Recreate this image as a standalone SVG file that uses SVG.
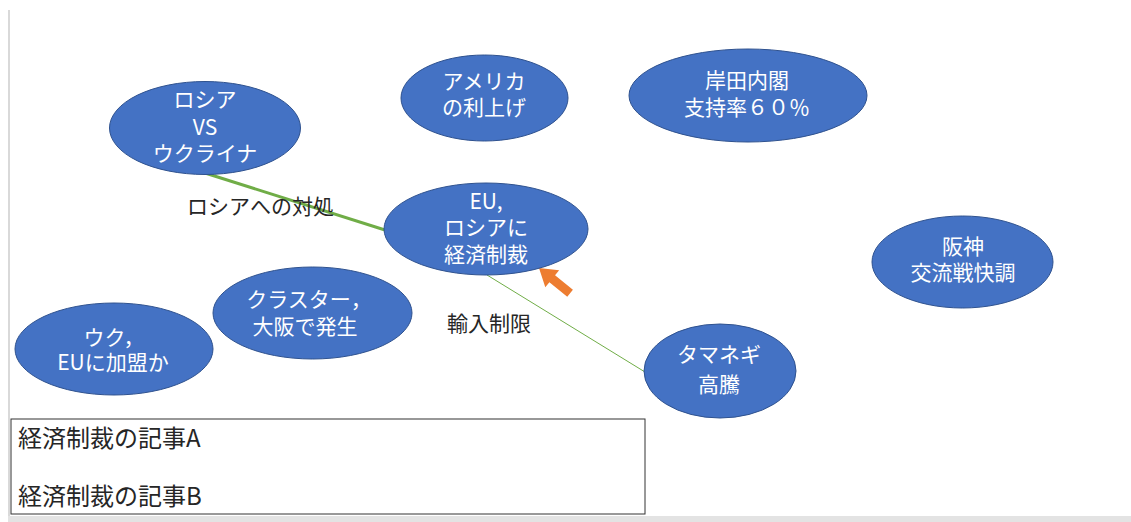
<svg xmlns="http://www.w3.org/2000/svg" width="1131" height="522" viewBox="0 0 1131 522">
<style>
.node ellipse{fill:#4472c4;stroke:#2f528f;stroke-width:1}
.node text{fill:#ffffff;font-family:"Noto Sans CJK JP","Noto Sans",sans-serif;font-size:21px;text-anchor:middle}
.lbl{fill:#262626;font-family:"Noto Sans CJK JP","Noto Sans",sans-serif;font-size:21px}
.box{fill:#262626;font-family:"Noto Sans CJK JP","Noto Sans",sans-serif;font-size:24px}
</style>
<rect x="0" y="0" width="1131" height="522" fill="#ffffff"/>
<rect x="8" y="10" width="2" height="512" fill="#d9d9d9"/>
<rect x="8" y="516" width="1123" height="6" fill="#e3e3e3"/>
<g id="connectors">
<line x1="205" y1="173" x2="385" y2="230" stroke="#70ad47" stroke-width="3"/>
<line x1="487" y1="275" x2="645" y2="372" stroke="#70ad47" stroke-width="1"/>
<text class="lbl" x="187" y="214">ロシアへの対処</text>
<text class="lbl" x="447" y="331">輸入制限</text>
<polygon points="0,0 -17,-11 -17,-4.5 -40,-4.5 -40,4.5 -17,4.5 -17,11" fill="#ed7d31" transform="translate(539,268) rotate(219)"/>
</g>
<g id="n-russia" class="node">
<ellipse cx="205" cy="128" rx="95.5" ry="46.5"/>
<text x="205" y="107">ロシア</text>
<text x="205" y="135">VS</text>
<text x="205" y="161">ウクライナ</text>
</g>
<g id="n-america" class="node">
<ellipse cx="484.5" cy="98" rx="83.5" ry="43"/>
<text x="484" y="89">アメリカ</text>
<text x="484" y="115">の利上げ</text>
</g>
<g id="n-kishida" class="node">
<ellipse cx="748" cy="95.5" rx="119" ry="46.5"/>
<text x="747" y="88">岸田内閣</text>
<text x="747" y="115">支持率６０％</text>
</g>
<g id="n-hanshin" class="node">
<ellipse cx="962.5" cy="262" rx="90.5" ry="46"/>
<text x="963" y="254">阪神</text>
<text x="963" y="280">交流戦快調</text>
</g>
<g id="n-eu" class="node">
<ellipse cx="486" cy="229" rx="102" ry="46"/>
<text x="486" y="209">EU,</text>
<text x="486" y="235">ロシアに</text>
<text x="486" y="262">経済制裁</text>
</g>
<g id="n-cluster" class="node">
<ellipse cx="312.5" cy="313" rx="99.5" ry="46"/>
<text x="309" y="307">クラスター，</text>
<text x="305" y="334">大阪で発生</text>
</g>
<g id="n-uku" class="node">
<ellipse cx="114" cy="349" rx="99" ry="46"/>
<text x="114" y="345">ウク，</text>
<text x="113" y="370">EUに加盟か</text>
</g>
<g id="n-onion" class="node">
<ellipse cx="720" cy="371" rx="76" ry="47"/>
<text x="719" y="362">タマネギ</text>
<text x="719" y="392">高騰</text>
</g>
<g id="n-articles">
<rect x="11" y="419" width="634" height="95" fill="#ffffff" stroke="#333333" stroke-width="1"/>
<text class="box" x="18" y="447">経済制裁の記事A</text>
<text class="box" x="18" y="505">経済制裁の記事B</text>
</g>
</svg>
